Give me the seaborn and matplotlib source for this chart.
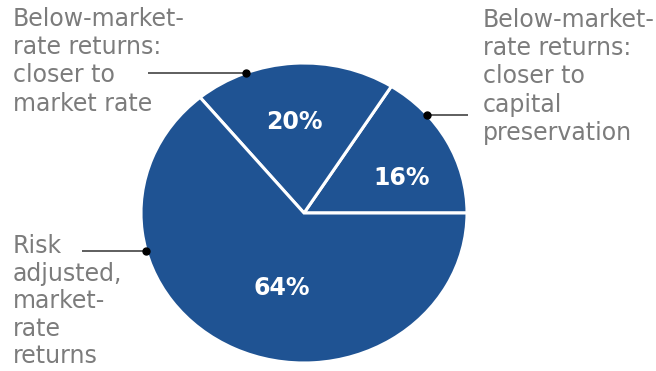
import numpy as np
import matplotlib
matplotlib.use("Agg")
import matplotlib.pyplot as plt
import seaborn as sns

# ---- data ----
values = [16, 20, 64]
pct_labels = ["16%", "20%", "64%"]
categories = [
    "Below-market-\nrate returns:\ncloser to\ncapital\npreservation",
    "Below-market-\nrate returns:\ncloser to\nmarket rate",
    "Risk\nadjusted,\nmarket-\nrate\nreturns",
]

sns.set_theme(style="white")
plt.rcParams["font.family"] = ["DejaVu Sans"]

W, H = 656, 371
CX, CY = 304, 213      # pie centre in pixels (from top)
RX, RY = 163, 150      # pie radii in pixels (slightly stretched)

def px(x, y):
    return ((x - CX) / RX, (CY - y) / RY)

blue = "#1f5393"
grey = "#7c7c7c"

fig = plt.figure(figsize=(W / 100, H / 100), dpi=100)
ax = fig.add_axes([0, 0, 1, 1])

wedges, _ = ax.pie(values, startangle=0, counterclock=True, radius=1,
                   colors=[blue] * len(values),
                   wedgeprops=dict(edgecolor="white", linewidth=2.2))
ax.set_aspect("auto")
ax.set_xlim(-CX / RX, (W - CX) / RX)
ax.set_ylim(-(H - CY) / RY, CY / RY)
ax.axis("off")

# percentage labels
pct_pos = [(402, 178), (294, 122), (282, 288)]
for lab, (x, y) in zip(pct_labels, pct_pos):
    ax.text(*px(x, y), lab, color="white", fontsize=17, fontweight="bold",
            ha="center", va="center")

# callouts: (dot angle deg, line end x px, text x px, text top y px, spacing)
callouts = [
    (40.9, 468, 483, 8, 1.22),
    (110.9, 148, 13, 7, 1.22),
    (194.7, 82, 13, 234, 1.19),
]
for cat, (ang, lx, tx, ty, ls) in zip(categories, callouts):
    dx, dy = np.cos(np.radians(ang)), np.sin(np.radians(ang))
    ax.plot([dx, px(lx, 0)[0]], [dy, dy], color="#333333", lw=1.1,
            solid_capstyle="butt")
    ax.plot([dx], [dy], "o", color="black", ms=5)
    ax.text(*px(tx, ty), cat, color=grey, fontsize=17, ha="left",
            va="top", linespacing=ls)

fig.savefig("out.png", dpi=100)
